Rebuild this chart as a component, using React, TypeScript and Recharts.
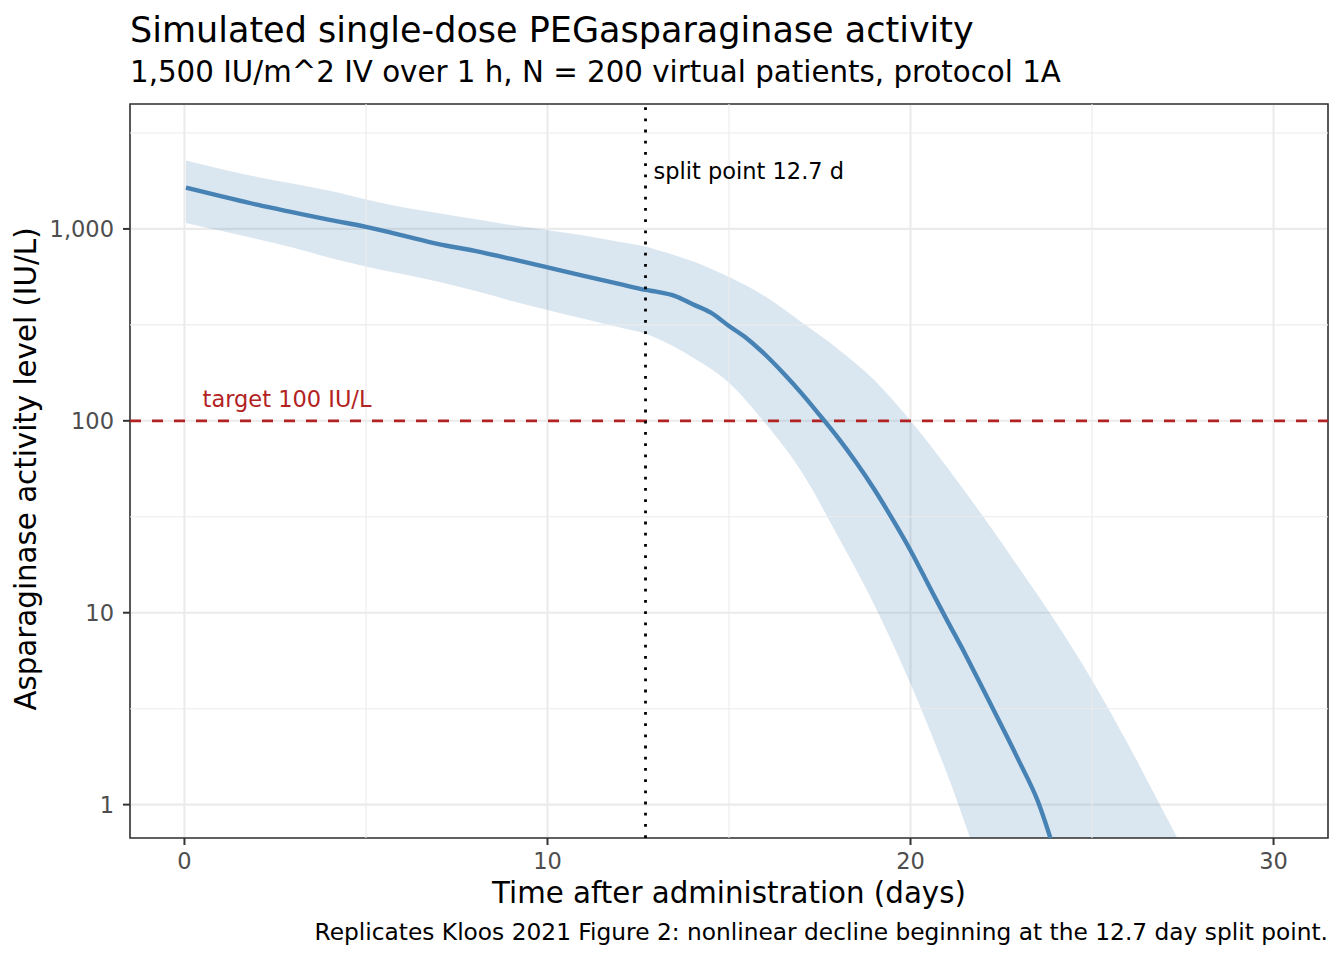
import React from 'react';
import {
  ComposedChart,
  Line,
  Area,
  XAxis,
  YAxis,
  CartesianGrid,
  ReferenceLine,
  ReferenceArea,
  ReferenceDot,
} from 'recharts';

const FONT = '"DejaVu Sans", Verdana, sans-serif';

// Median simulated activity (IU/L) by day
const medianDays = [0.04, 1, 2, 3, 4, 5, 6, 7, 8, 9, 10, 11, 12, 12.7, 13, 13.5, 14, 14.5, 15, 15.5, 16, 16.5, 17, 17.5, 18, 18.5, 19, 19.5, 20, 20.5, 21, 21.5, 22, 22.5, 23, 23.5, 24, 24.5];
const medianActivity = [1640, 1483, 1337, 1219, 1114, 1026, 925, 834, 768, 698, 631, 569, 515, 481, 471, 448, 405, 366, 312, 268, 221, 177, 139, 107, 81.7, 60.8, 44, 30.8, 21.1, 13.9, 9.18, 6.12, 3.99, 2.59, 1.67, 1.05, 0.55, 0.28];

// Prediction band (lower / upper) by day
const bandDays = [0.04, 1, 2, 3, 4, 5, 6, 7, 8, 9, 10, 11, 12, 12.7, 13, 14, 15, 16, 17, 18, 19, 20, 21, 22, 23, 24, 25, 26, 27, 28];
const bandUpper = [2270, 2051, 1866, 1718, 1579, 1423, 1298, 1208, 1125, 1047, 985, 925, 855, 809, 778, 678, 561, 444, 326, 237, 163, 100, 57.4, 31.7, 17, 8.95, 4.45, 2.05, 0.895, 0.39];
const bandLower = [1075, 977, 885, 798, 708, 638, 582, 531, 476, 422, 378, 340, 306, 284, 270, 214, 158, 97, 54.2, 25, 11, 4.27, 1.46, 0.45, 0.2, 0.09, 0.04, 0.018, 0.008, 0.0035];

const xTicks = [0, 10, 20, 30];
const xMinor = [5, 15, 25];
const yTicks = [1, 10, 100, 1000];
const yMinor = [3.162, 31.62, 316.2, 3162];

const X_DOMAIN: [number, number] = [-1.5, 31.5];
const Y_DOMAIN: [number, number] = [0.67, 4477];

const TARGET = 100;
const SPLIT_DAY = 12.7;

const medianData = medianDays.map((t, i) => ({ t, v: medianActivity[i] }));
const bandData = bandDays.map((t, i) => ({ t, band: [bandLower[i], bandUpper[i]] }));

const fmt = (v: number) => v.toLocaleString('en-US');

const TargetLabel = (props: any) => {
  const vb = props.viewBox || {};
  return (
    <text x={vb.x} y={vb.y - 14} fill="#B22222" fontSize={22.5} fontFamily={FONT} textAnchor="start">
      target 100 IU/L
    </text>
  );
};

const SplitLabel = (props: any) => {
  const vb = props.viewBox || {};
  return (
    <text x={vb.x + 8} y={vb.y + 8} fill="#000000" fontSize={22.5} fontFamily={FONT} textAnchor="start">
      split point 12.7 d
    </text>
  );
};

export default function App() {
  return (
    <div style={{ position: 'absolute', left: 0, top: 0, width: 1344, height: 960, background: '#fff' }}>
      <ComposedChart
        width={1344}
        height={960}
        margin={{ top: 104, right: 16, bottom: 92, left: 70 }}
      >
        <XAxis
          type="number"
          dataKey="t"
          domain={X_DOMAIN}
          allowDataOverflow
          ticks={xTicks}
          axisLine={false}
          tickLine={{ stroke: '#333333', strokeWidth: 2 }}
          tickSize={7}
          tickMargin={8}
          height={30}
          tick={{ fill: '#4D4D4D', fontSize: 22.5, fontFamily: FONT }}
        />
        <YAxis
          type="number"
          scale="log"
          domain={Y_DOMAIN}
          allowDataOverflow
          ticks={yTicks}
          tickFormatter={fmt}
          axisLine={false}
          tickLine={{ stroke: '#333333', strokeWidth: 2 }}
          tickSize={7}
          tickMargin={9}
          width={60}
          tick={{ fill: '#4D4D4D', fontSize: 22.5, fontFamily: FONT }}
        />
        <CartesianGrid stroke="#EBEBEB" strokeWidth={2.1} />
        {xMinor.map((x) => (
          <ReferenceLine key={'xm' + x} x={x} stroke="#EBEBEB" strokeWidth={1.1} />
        ))}
        {yMinor.map((y) => (
          <ReferenceLine key={'ym' + y} y={y} stroke="#EBEBEB" strokeWidth={1.1} />
        ))}
        <Area
          data={bandData}
          dataKey="band"
          type="monotone"
          fill="#4682B4"
          fillOpacity={0.2}
          stroke="none"
          isAnimationActive={false}
          dot={false}
          activeDot={false}
        />
        <ReferenceLine y={TARGET} stroke="#B22222" strokeWidth={2.7} strokeDasharray="11 11" />
        <Line
          data={medianData}
          dataKey="v"
          type="monotone"
          stroke="#4682B4"
          strokeWidth={4.4}
          dot={false}
          activeDot={false}
          isAnimationActive={false}
        />
        <ReferenceLine x={SPLIT_DAY} stroke="#000000" strokeWidth={2.8} strokeDasharray="2.8 8.4" />
        <ReferenceDot x={0.5} y={TARGET} r={0} fill="none" stroke="none" label={TargetLabel} />
        <ReferenceDot x={SPLIT_DAY} y={2000} r={0} fill="none" stroke="none" label={SplitLabel} />
        <ReferenceArea
          x1={X_DOMAIN[0]}
          x2={X_DOMAIN[1]}
          y1={Y_DOMAIN[0]}
          y2={Y_DOMAIN[1]}
          fill="none"
          fillOpacity={0}
          stroke="#333333"
          strokeWidth={1.6}
          ifOverflow="visible"
        />
      </ComposedChart>
      <svg
        width={1344}
        height={960}
        style={{ position: 'absolute', left: 0, top: 0, pointerEvents: 'none' }}
      >
        <text x={130} y={41.7} fontSize={35} fontFamily={FONT} fill="#000">
          Simulated single-dose PEGasparaginase activity
        </text>
        <text x={130} y={82} fontSize={29.3} fontFamily={FONT} fill="#000">
          1,500 IU/m^2 IV over 1 h, N = 200 virtual patients, protocol 1A
        </text>
        <text x={729} y={902.7} fontSize={29.3} fontFamily={FONT} fill="#000" textAnchor="middle">
          Time after administration (days)
        </text>
        <text
          x={36}
          y={469}
          fontSize={29.3}
          fontFamily={FONT}
          fill="#000"
          textAnchor="middle"
          transform="rotate(-90 36 469)"
        >
          Asparaginase activity level (IU/L)
        </text>
        <text x={1328} y={940} fontSize={23.3} fontFamily={FONT} fill="#000" textAnchor="end">
          Replicates Kloos 2021 Figure 2: nonlinear decline beginning at the 12.7 day split point.
        </text>
      </svg>
    </div>
  );
}
